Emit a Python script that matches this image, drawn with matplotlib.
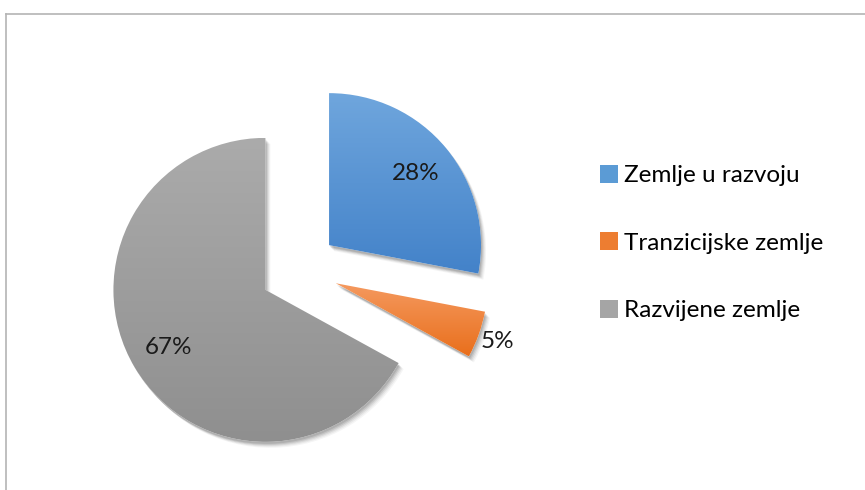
import numpy as np
import matplotlib.pyplot as plt
from matplotlib.lines import Line2D
from matplotlib.patches import Patch, Wedge
import matplotlib.colors as mcolors

kategorije = ['Zemlje u razvoju', 'Tranzicijske zemlje', 'Razvijene zemlje']
udjeli = [28, 5, 67]
boje_gore = ['#6fa6dd', '#f59a60', '#ababab']
boje_dolje = ['#4382c9', '#e96f1c', '#8f8f8f']
boje_legenda = ['#5b9bd5', '#ed7d31', '#a5a5a5']

plt.rcParams['font.family'] = ['Lato', 'DejaVu Sans']

fig = plt.figure(figsize=(8.65, 4.9), dpi=100)
ax = fig.add_axes([0, 0, 1, 1])

centar = (299, 220)
r = 152
eksplozija = [39] * 3   # u jedinicama podataka (px)

wedges, texts, autotexts = ax.pie(
    udjeli, explode=eksplozija, startangle=90, counterclock=False,
    radius=r, center=centar, autopct='%1.0f%%', pctdistance=0.74,
    textprops=dict(fontsize=17.5, color='#1a1a1a'),
    wedgeprops=dict(linewidth=0))

# sjena
for w in wedges:
    for dx, dy, a in [(5, -6, 0.04), (4, -5, 0.05), (3, -4, 0.07), (2, -3, 0.09), (1, -2, 0.1)]:
        s = Wedge((w.center[0] + dx, w.center[1] + dy), w.r, w.theta1, w.theta2,
                  facecolor='black', alpha=a, linewidth=0, zorder=0.5)
        ax.add_patch(s)

# gradijent
for w, c1, c2 in zip(wedges, boje_gore, boje_dolje):
    w.set_facecolor('white')
    w.set_zorder(1)
    bb = w.get_path().get_extents(w.get_patch_transform())
    t = np.linspace(0, 1, 256)[:, None, None]
    a = np.array(mcolors.to_rgb(c1))[None, None, :]
    b = np.array(mcolors.to_rgb(c2))[None, None, :]
    grad = a * (1 - t) + b * t
    im = ax.imshow(grad, extent=(bb.x0, bb.x1, bb.y0, bb.y1), origin='upper',
                   aspect='auto', interpolation='bilinear', zorder=2)
    im.set_clip_path(w)

# 5% izvan isjecka
mali = autotexts[1]
w = wedges[1]
x, y = mali.get_position()
mali.set_position((w.center[0] + (x - w.center[0]) * 1.53,
                   w.center[1] + (y - w.center[1]) * 1.53))
for t in autotexts:
    t.set_zorder(5)

ax.set_xlim(0, 865)
ax.set_ylim(0, 490)
ax.set_aspect('equal')
ax.axis('off')

handles = [Patch(facecolor=c, edgecolor='none') for c in boje_legenda]
ax.legend(handles, kategorije, loc='upper left', bbox_to_anchor=(578, 347),
          bbox_transform=ax.transData, frameon=False, fontsize=17.5,
          handlelength=0.75, handleheight=0.75, handletextpad=0.25,
          labelspacing=1.9)

# okvir
fig.add_artist(Line2D([6, 865], [490 - 14, 490 - 14], transform=None,
                      color='#b4b4b4', linewidth=1.2))
fig.add_artist(Line2D([6, 6], [0, 490 - 14], transform=None,
                      color='#b4b4b4', linewidth=1.2))

fig.savefig('out.png', dpi=100, facecolor='white')
